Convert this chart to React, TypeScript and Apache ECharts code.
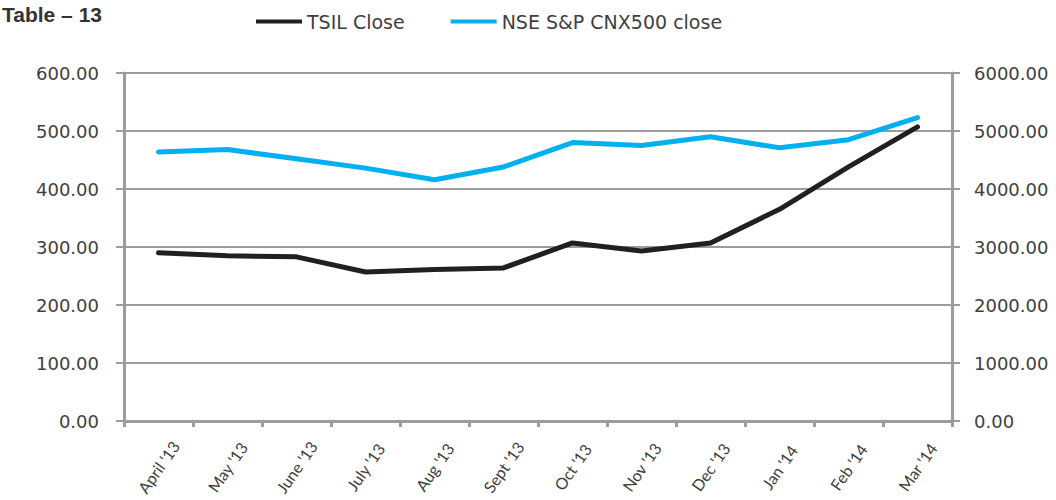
import React, { useEffect, useRef } from "react";
import * as echarts from "echarts";

const categories = ["April '13", "May '13", "June '13", "July '13", "Aug '13", "Sept '13", "Oct '13", "Nov '13", "Dec '13", "Jan '14", "Feb '14", "Mar '14"];
const tsilClose = [290, 285, 283, 257, 261, 264, 307, 293, 307, 365, 438, 507];
const nseClose = [4640, 4680, 4520, 4360, 4160, 4380, 4800, 4750, 4900, 4710, 4850, 5230];
const leftTicks = { min: 0, max: 600, interval: 100 };
const rightTicks = { min: 0, max: 6000, interval: 1000 };

const AXIS_FONT = "'DejaVu Sans', sans-serif";
const GRAY = "#9c9c9c";
const TEXT = "#404040";

export default function App() {
  const ref = useRef<HTMLDivElement>(null);
  useEffect(() => {
    if (!ref.current) return;
    const chart = echarts.init(ref.current, undefined, { renderer: "svg" });
    chart.setOption({
      animation: false,
      title: {
        text: "Table – 13",
        left: 2,
        top: 4,
        padding: 0,
        textStyle: { fontFamily: "'Liberation Sans', Arial, sans-serif", fontWeight: "bold", fontSize: 21, color: "#333333" },
      },
      legend: {
        left: 251,
        top: 7,
        icon: "rect",
        itemWidth: 46,
        itemHeight: 4,
        itemGap: 46,
        textStyle: { fontFamily: AXIS_FONT, fontSize: 19, color: TEXT },
        data: ["TSIL Close", "NSE S&P CNX500 close"],
      },
      grid: { left: 124, right: 104, top: 73, bottom: 79, containLabel: false },
      xAxis: {
        type: "category",
        data: categories,
        boundaryGap: true,
        axisLine: { lineStyle: { color: GRAY, width: 3 } },
        axisTick: { show: true, length: 6, lineStyle: { color: GRAY, width: 3 } },
        axisLabel: {
          rotate: 55,
          align: "center",
          verticalAlign: "middle",
          margin: 46,
          fontFamily: "Lato, sans-serif",
          fontSize: 16,
          color: TEXT,
          interval: 0,
        },
      },
      yAxis: [
        {
          type: "value",
          position: "left",
          ...leftTicks,
          axisLine: { show: true, lineStyle: { color: GRAY, width: 3 } },
          axisTick: { show: true, length: 8, lineStyle: { color: GRAY, width: 2 } },
          splitLine: { show: true, lineStyle: { color: GRAY, width: 2 } },
          axisLabel: { formatter: (v: number) => v.toFixed(2), margin: 25, fontFamily: AXIS_FONT, fontSize: 18, color: TEXT },
        },
        {
          type: "value",
          position: "right",
          ...rightTicks,
          axisLine: { show: true, lineStyle: { color: GRAY, width: 3 } },
          axisTick: { show: true, length: 8, lineStyle: { color: GRAY, width: 2 } },
          splitLine: { show: false },
          axisLabel: { formatter: (v: number) => v.toFixed(2), margin: 22, fontFamily: AXIS_FONT, fontSize: 18, color: TEXT },
        },
      ],
      series: [
        {
          name: "TSIL Close",
          type: "line",
          yAxisIndex: 0,
          data: tsilClose,
          showSymbol: false,
          symbol: "none",
          itemStyle: { color: "#231f20" },
          lineStyle: { color: "#231f20", width: 5, cap: "round", join: "round" },
          z: 3,
        },
        {
          name: "NSE S&P CNX500 close",
          type: "line",
          yAxisIndex: 1,
          data: nseClose,
          showSymbol: false,
          symbol: "none",
          itemStyle: { color: "#00b0f0" },
          lineStyle: { color: "#00b0f0", width: 5, cap: "round", join: "round" },
          z: 2,
        },
      ],
    });
    return () => chart.dispose();
  }, []);
  return <div ref={ref} style={{ width: 1056, height: 500, position: "absolute", left: 0, top: 0 }} />;
}
